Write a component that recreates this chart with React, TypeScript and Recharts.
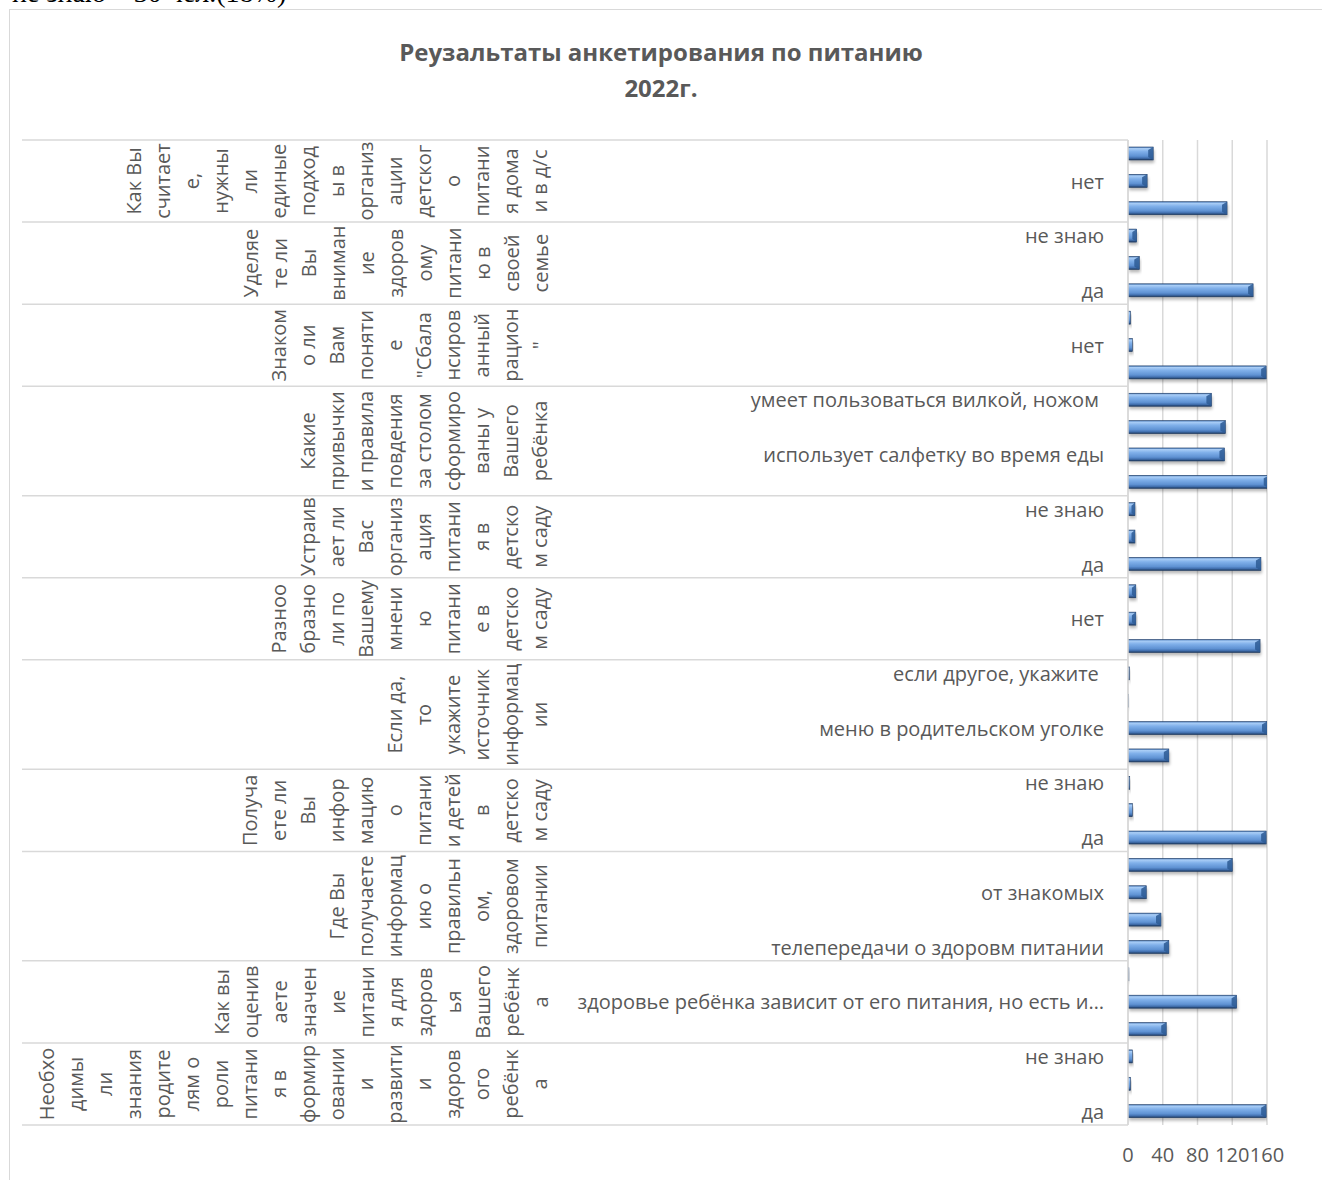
import { BarChart, Bar, XAxis, YAxis, CartesianGrid } from 'recharts';

// вопросы анкеты (по строкам, как перенесено в подписи оси)
const groupTitles: string[][] = [
  ['Необхо', 'димы', 'ли', 'знания', 'родите', 'лям о', 'роли', 'питани', 'я в', 'формир', 'овании', 'и', 'развити', 'и', 'здоров', 'ого', 'ребёнк', 'а'],
  ['Как вы', 'оценив', 'аете', 'значен', 'ие', 'питани', 'я для', 'здоров', 'ья', 'Вашего', 'ребёнк', 'а'],
  ['Где Вы', 'получаете', 'информац', 'ию о', 'правильн', 'ом,', 'здоровом', 'питании'],
  ['Получа', 'ете ли', 'Вы', 'инфор', 'мацию', 'о', 'питани', 'и детей', 'в', 'детско', 'м саду'],
  ['Если да,', 'то', 'укажите', 'источник', 'информац', 'ии'],
  ['Разноо', 'бразно', 'ли по', 'Вашему', 'мнени', 'ю', 'питани', 'е в', 'детско', 'м саду'],
  ['Устраив', 'ает ли', 'Вас', 'организ', 'ация', 'питани', 'я в', 'детско', 'м саду'],
  ['Какие', 'привычки', 'и правила', 'повдения', 'за столом', 'сформиро', 'ваны у', 'Вашего', 'ребёнка'],
  ['Знаком', 'о ли', 'Вам', 'поняти', 'е', '"Сбала', 'нсиров', 'анный', 'рацион', '"'],
  ['Уделяе', 'те ли', 'Вы', 'вниман', 'ие', 'здоров', 'ому', 'питани', 'ю в', 'своей', 'семье'],
  ['Как Вы', 'считает', 'е,', 'нужны', 'ли', 'единые', 'подход', 'ы в', 'организ', 'ации', 'детског', 'о', 'питани', 'я дома', 'и в д/с'],
];

const groupSizes = [3, 3, 4, 3, 4, 3, 3, 4, 3, 3, 3];

const answerLabels = [
  'да', 'нет', 'не знаю',
  'здоровье ребёнка полностью зависит от питания', 'здоровье ребёнка зависит от его питания, но есть и другие факторы', 'питание не влияет на здоровье',
  'телепередачи о здоровм питании', 'интернет', 'от знакомых', 'в детском саду',
  'да', 'нет', 'не знаю',
  'информационный стенд', 'меню в родительском уголке', 'сайт детского сада', 'если другое, укажите ',
  'да', 'нет', 'не знаю',
  'да', 'нет', 'не знаю',
  'моет руки перед едой', 'использует салфетку во время еды', 'благодарит после еды', 'умеет пользоваться вилкой, ножом ',
  'да', 'нет', 'не знаю',
  'да', 'нет', 'не знаю',
  'да', 'нет', 'не знаю',
];

const answerCounts = [
  159, 3, 5,
  44, 125, 1,
  47, 38, 21, 120,
  159, 5, 2,
  47, 160, 0.7, 1.5,
  152, 9, 9,
  153, 8, 8,
  162, 111, 112, 96,
  159, 5, 3,
  144, 13, 10,
  114, 22, 29,
];

const xTicks = [0, 40, 80, 120, 160];

const W = 1322;
const H = 1180;
const TXT = '#595959';
const FONT = '"Open Sans", "DejaVu Sans", sans-serif';
const PLOT_TOP = 140;
const PLOT_BOTTOM = 1125;
const AXIS_X = 1128;

type Row = { id: string; label: string; count: number; group: number; pos: number };

const rows: Row[] = [];
groupSizes.forEach((size, g) => {
  for (let p = 0; p < size; p++) {
    const i = rows.length;
    rows.push({ id: 'a' + i, label: answerLabels[i], count: answerCounts[i], group: g, pos: p });
  }
});

const BAND = (PLOT_BOTTOM - PLOT_TOP) / rows.length;

function CategoryTick(props: any) {
  const { x, y, payload } = props;
  const idx = payload?.index ?? props.index;
  const row = rows[idx];
  if (!row) return null;
  const half = BAND / 2;
  const size = groupSizes[row.group];
  const lines = groupTitles[row.group];
  const text = row.label.length > 52 ? row.label.slice(0, 50) + '…' : row.label;
  const cy = y - (size - 1) * half;
  return (
    <g>
      {row.pos === 0 && (
        <line x1={22} x2={AXIS_X} y1={y + half} y2={y + half} stroke="#d9d9d9" strokeWidth={1.5} />
      )}
      {idx === rows.length - 1 && (
        <line x1={22} x2={AXIS_X} y1={y - half} y2={y - half} stroke="#d9d9d9" strokeWidth={1.5} />
      )}
      {row.pos === 0 &&
        lines.map((ln, j) => {
          const cx = 540 - (lines.length - 1 - j) * 29;
          return (
            <text
              key={j}
              x={cx}
              y={cy}
              transform={`rotate(-90 ${cx} ${cy})`}
              textAnchor="middle"
              dominantBaseline="central"
              fill={TXT}
              fontSize={20}
              fontFamily={FONT}
            >
              {ln}
            </text>
          );
        })}
      {idx % 2 === 0 && (
        <text
          x={x - 16}
          y={y}
          textAnchor="end"
          dominantBaseline="central"
          fill={TXT}
          fontSize={20}
          fontFamily={FONT}
          style={{ whiteSpace: 'pre' }}
        >
          {text}
        </text>
      )}
    </g>
  );
}

function BevelBar(props: any) {
  const { x, y, width, height } = props;
  if (!width || width <= 0) return null;
  const cap = Math.min(5, width / 2);
  return (
    <g>
      <rect x={x + 1} y={y + 3} width={width} height={height} fill="rgba(0,0,0,0.28)" filter="url(#barShadow)" />
      <rect x={x} y={y} width={width} height={height} fill="url(#barGrad)" stroke="#1f3b63" strokeWidth={0.6} />
      {width > 6 && (
        <polygon
          points={`${x + width - cap},${y + 3} ${x + width},${y} ${x + width},${y + height} ${x + width - cap},${y + height - 3}`}
          fill="#2d5b94"
          opacity={0.85}
        />
      )}
    </g>
  );
}

export default function App() {
  return (
    <div style={{ position: 'relative', width: W, height: H, overflow: 'hidden', background: '#fff' }}>
      <style>{`body{margin:0;overflow:hidden}`}</style>
      <div
        style={{
          position: 'absolute',
          left: 12,
          top: -21,
          fontFamily: '"Liberation Serif", "Times New Roman", serif',
          fontSize: 28,
          lineHeight: '28px',
          whiteSpace: 'nowrap',
          color: '#000',
        }}
      >
        не знаю – 30 чел.(18%)
      </div>
      <div
        style={{
          position: 'absolute',
          left: 9,
          top: 9,
          width: W + 20,
          height: H + 20,
          border: '1.5px solid #d9d9d9',
        }}
      />
      <div
        style={{
          position: 'absolute',
          left: 0,
          width: W,
          top: 34,
          textAlign: 'center',
          fontFamily: FONT,
          fontWeight: 700,
          fontSize: 24,
          lineHeight: '36px',
          color: TXT,
        }}
      >
        Реузальтаты анкетирования по питанию
        <br />
        2022г.
      </div>
      <div style={{ position: 'absolute', left: 0, top: 0 }}>
        <BarChart
          width={W}
          height={H}
          data={rows}
          layout="vertical"
          margin={{ top: PLOT_TOP, right: W - 1267, bottom: 15, left: 0 }}
        >
          <defs>
            <linearGradient id="barGrad" x1="0" y1="0" x2="0" y2="1">
              <stop offset="0" stopColor="#4677b6" />
              <stop offset="0.12" stopColor="#a9cdf6" />
              <stop offset="0.35" stopColor="#80b0ea" />
              <stop offset="0.7" stopColor="#5f92d3" />
              <stop offset="0.86" stopColor="#416fae" />
              <stop offset="1" stopColor="#1d3a60" />
            </linearGradient>
            <filter id="barShadow" x="-10%" y="-50%" width="120%" height="200%">
              <feGaussianBlur stdDeviation="1.6" />
            </filter>
          </defs>
          <CartesianGrid horizontal={false} stroke="#d9d9d9" strokeWidth={1.5} />
          <XAxis
            type="number"
            domain={[0, 160]}
            ticks={xTicks}
            interval={0}
            allowDataOverflow
            axisLine={false}
            tickLine={false}
            tickMargin={17}
            height={40}
            tick={{ fill: TXT, fontSize: 20, fontFamily: FONT }}
          />
          <YAxis
            type="category"
            dataKey="id"
            reversed
            width={AXIS_X}
            interval={0}
            tickLine={false}
            axisLine={{ stroke: '#d9d9d9', strokeWidth: 1.5 }}
            tick={<CategoryTick />}
          />
          <Bar dataKey="count" barSize={13} isAnimationActive={false} shape={<BevelBar />} />
        </BarChart>
      </div>
    </div>
  );
}
